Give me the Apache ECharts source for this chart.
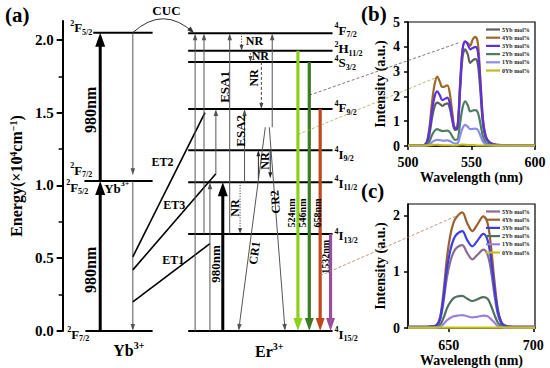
<!DOCTYPE html>
<html><head><meta charset="utf-8">
<script src="https://cdn.jsdelivr.net/npm/echarts@6/dist/echarts.min.js"></script>
<style>html,body{margin:0;padding:0;background:#fff}#c{width:550px;height:368px}</style>
</head><body><div id="c"></div>
<script>
// ======================= DATA =======================
// (a) energy-level diagram, energies in 10^4 cm^-1
const energyTicks = [0, 0.5, 1.0, 1.5, 2.0];
const energyMinorTicks = [0.25, 0.75, 1.25, 1.75];
const ybLevelNames = ['2F7/2', '2F5/2', '2F5/2'];
const ybLevelEnergy = [0, 1.03, 2.05];
const erLevelNames = ['4I15/2', '4I13/2', '4I11/2', '4I9/2', '4F9/2', '4S3/2', '2H11/2', '4F7/2'];
const erLevelEnergy = [0, 0.667, 1.022, 1.242, 1.526, 1.849, 1.926, 2.046];
const ybPumpSteps = [[0, 1.03], [1.03, 2.05]];
const ybDecaySteps = [[2.05, 1.07], [1.03, 0]];
const etNames = ['ET1', 'ET2', 'ET3'];
const etDonorEnergy = [0.20, 0.51, 0.42];
const etAcceptorEnergy = [0.60, 1.50, 1.08];
const erAbsorption = [[0, 2.046], [0.667, 2.046], [0, 1.022], [1.08, 1.526], [0.667, 2.046], [1.022, 1.526], [1.40, 2.046]];
const erPump = [0, 1.022];
const nrDecays = [[2.046, 1.926], [1.926, 1.849], [1.849, 1.526], [1.022, 0.667]];
const nrExchange = [[1.04, 1.242], [1.242, 1.05]];
const crNames = ['CR1', 'CR2'];
const crTransfers = [[1.40, 0], [1.40, 0]];
const emissionNames = ['524nm', '546nm', '658nm', '1532nm'];
const emissionUpper = [1.926, 1.849, 1.526, 0.667];
const emissionLower = [0, 0, 0, 0];
const cucStep = [2.05, 2.046];
const pumpLabel = '980nm';

// (b) green emission spectra
const seriesNames = ['5Yb mol%', '4Yb mol%', '3Yb mol%', '2Yb mol%', '1Yb mol%', '0Yb mol%'];
const greenWavelength = [500,510,513,515,517,519,521,523,525,527,529,531,533,535,537,539,541,543,545,547,549,551,553,555,557,559,561,563,566,570,580,600];
const green5Yb = [0.02,0.02,0.04,0.12,0.5,1.15,1.6,1.75,1.7,1.62,1.68,1.72,1.5,1.0,0.65,0.7,2.2,3.6,3.9,3.7,3.35,3.45,3.5,3.3,2.2,0.9,0.35,0.18,0.08,0.04,0.03,0.02];
const green4Yb = [0.02,0.02,0.05,0.2,0.8,1.8,2.5,2.8,2.6,2.38,2.4,2.45,2.1,1.3,0.75,0.8,2.5,3.9,4.2,4.15,4.05,4.3,4.4,4.15,2.7,1.1,0.45,0.22,0.1,0.05,0.03,0.02];
const green3Yb = [0.02,0.02,0.04,0.15,0.65,1.45,2.0,2.2,2.05,1.85,1.9,1.95,1.7,1.1,0.7,0.75,2.4,3.9,4.22,4.1,3.9,3.95,4.0,3.8,2.5,1.0,0.4,0.2,0.09,0.05,0.03,0.02];
const green2Yb = [0.01,0.01,0.02,0.05,0.2,0.45,0.62,0.68,0.64,0.6,0.61,0.62,0.55,0.38,0.25,0.27,0.9,1.55,1.8,1.65,1.4,1.43,1.45,1.35,0.9,0.38,0.15,0.08,0.04,0.02,0.01,0.01];
const green1Yb = [0.01,0.01,0.01,0.02,0.07,0.16,0.22,0.25,0.24,0.22,0.22,0.23,0.2,0.14,0.1,0.11,0.4,0.72,0.85,0.78,0.68,0.69,0.7,0.65,0.42,0.18,0.07,0.04,0.02,0.01,0.01,0.01];
const green0Yb = [0.02,0.02,0.02,0.02,0.03,0.04,0.05,0.05,0.04,0.03,0.03,0.03,0.03,0.02,0.02,0.03,0.05,0.06,0.05,0.04,0.04,0.04,0.03,0.02,0.02,0.02,0.02,0.02,0.02,0.02,0.02,0.02];
const greenTicks = [500, 550, 600];
const greenIntensityTicks = [0, 1, 2, 3, 4, 5];

// (c) red emission spectra
const redWavelength = [626,635,640,643,645,647,649,651,653,655,658,661,664,667,670.5,673,675,677,679,681,683,686,690,701];
const red5Yb = [0.02,0.02,0.03,0.05,0.15,0.47,0.9,1.18,1.35,1.43,1.47,1.33,1.22,1.3,1.39,1.3,1.02,0.6,0.25,0.09,0.04,0.02,0.02,0.02];
const red4Yb = [0.02,0.02,0.03,0.06,0.2,0.65,1.25,1.65,1.88,1.98,2.05,1.86,1.72,1.84,1.98,1.86,1.45,0.85,0.35,0.12,0.05,0.03,0.02,0.02];
const red3Yb = [0.02,0.02,0.03,0.05,0.17,0.55,1.05,1.38,1.58,1.67,1.72,1.56,1.45,1.55,1.67,1.56,1.22,0.72,0.3,0.1,0.04,0.02,0.02,0.02];
const red2Yb = [0.01,0.01,0.01,0.02,0.06,0.18,0.35,0.46,0.53,0.56,0.57,0.52,0.48,0.51,0.55,0.52,0.4,0.24,0.1,0.04,0.02,0.01,0.01,0.01];
const red1Yb = [0.01,0.01,0.01,0.01,0.03,0.07,0.14,0.18,0.21,0.22,0.23,0.21,0.19,0.2,0.22,0.21,0.16,0.1,0.04,0.02,0.01,0.01,0.01,0.01];
const red0Yb = [0.01,0.01,0.01,0.01,0.01,0.01,0.01,0.01,0.01,0.01,0.01,0.01,0.01,0.01,0.01,0.01,0.01,0.01,0.01,0.01,0.01,0.01,0.01,0.01];
const redTicks = [650, 700];
const redIntensityTicks = [0, 1, 2];

// zoom connectors: [emission index, energy on arrow] -> [wavelength, intensity] on inset
const connectFrom = [[1, 1.62], [0, 1.35], [2, 0.38]];
const connectTo = [[541, 4.18], [522.6, 2.77], [657, 2.02]];

// ======================= LAYOUT / STYLE =======================
const FONT = 'Liberation Serif';
const L = {
  ybLevelL: [80, 79, 88], ybLevelR: 148,
  erLevelL: 184, erLevelR: 330,
  ybPump: 95, ybDecay: 128,
  etEndX: [206, 201, 212],
  erAbs: [191, 200, 206, 212, 226, 241, 269],
  erPump: 219,
  nr: [238, 247, 258, 236.5],
  nrEx: [255, 267],
  cr: [[262, 235], [266, 282]],
  emission: [295, 306.5, 317.5, 328],
  erLabelX: 332,
  erLabelDy: [3, 2, 1, 4, -1, 1, -2, -3],
  cucX: [128, 190]
};
const ST = {
  level: {color: '#000', width: 2},
  thin: {color: '#555', width: 1, head: [7, 4.5]},
  thinBlack: {color: '#222', width: 1, head: [6, 4]},
  thick: {color: '#000', width: 3, head: [14, 10]},
  dot: {color: '#444', width: 1, dash: [1.2, 1.5], head: [6, 4]},
  dash: {color: '#444', width: 1, dash: [3, 2], head: [6, 4]},
  et: {color: '#000', width: 1.6}
};
const emissionColors = ['#8cd21c', '#3c7a24', '#c0461c', '#9a4f9c'];
const bColors = ['#5c625c', '#9c6a28', '#5c30e0', '#4e7e60', '#8c8cf0', '#c4b820'];
const cColors = ['#8c6c8c', '#9a6030', '#3c3ce8', '#4e7060', '#9c80e0', '#c8c020'];
const connectColors = ['#555', '#a4a850', '#b07a5a'];

function richFor(s) {
  const base = {fontWeight: 'bold', fontFamily: FONT, color: '#000'};
  const ss = Math.round(s * 0.62);
  return {
    n: Object.assign({fontSize: s, lineHeight: Math.round(s * 1.3)}, base),
    sp: Object.assign({fontSize: ss, lineHeight: ss, verticalAlign: 'top'}, base),
    sb: Object.assign({fontSize: ss, lineHeight: ss, verticalAlign: 'bottom'}, base)
  };
}
function lvl(name) {
  const m = name.match(/^(\d)([A-Z])(.+)$/);
  return '{sp|' + m[1] + '}{n|' + m[2] + '}{sb|' + m[3] + '}';
}

// ---------- segments / arrows ----------
const segs = [];
const seg = (x1, e1, x2, e2, st) => segs.push({v: [x1, e1, x2, e2], st});
ybLevelEnergy.forEach((e, i) => seg(L.ybLevelL[i], e, L.ybLevelR, e, ST.level));
erLevelEnergy.forEach(e => seg(L.erLevelL, e, L.erLevelR, e, ST.level));
ybDecaySteps.forEach(([a, b]) => seg(L.ybDecay, a, L.ybDecay, b, ST.thin));
etDonorEnergy.forEach((e, i) => seg(L.ybDecay, e, L.etEndX[i], etAcceptorEnergy[i], ST.et));
erAbsorption.forEach(([a, b], i) => seg(L.erAbs[i], a, L.erAbs[i], b, ST.thin));
nrDecays.forEach(([a, b], i) => seg(L.nr[i], a, L.nr[i], b, i === 2 ? ST.dash : ST.dot));
nrExchange.forEach(([a, b], i) => seg(L.nrEx[i], a, L.nrEx[i], b, ST.thinBlack));
crTransfers.forEach(([a, b], i) => seg(L.cr[i][0], a, L.cr[i][1], b, ST.thin));
ybPumpSteps.forEach(([a, b]) => seg(L.ybPump, a, L.ybPump, b, ST.thick));
seg(L.erPump, erPump[0], L.erPump, erPump[1], ST.thick);
emissionUpper.forEach((e, i) => seg(L.emission[i], e, L.emission[i], emissionLower[i],
  {color: emissionColors[i], width: 3.2, head: [13, 9]}));

function arrowShapes(p1, p2, st) {
  const dx = p2[0] - p1[0], dy = p2[1] - p1[1];
  const len = Math.hypot(dx, dy) || 1;
  const ux = dx / len, uy = dy / len;
  const out = [];
  let ex = p2[0], ey = p2[1];
  let poly = null;
  if (st.head) {
    const [hl, hw] = st.head;
    const bx = p2[0] - ux * hl, by = p2[1] - uy * hl;
    ex = p2[0] - ux * hl * 0.7; ey = p2[1] - uy * hl * 0.7;
    poly = {type: 'polygon', shape: {points: [[p2[0], p2[1]], [bx - uy * hw / 2, by + ux * hw / 2], [bx + uy * hw / 2, by - ux * hw / 2]]},
      style: {fill: st.color}};
  }
  out.push({type: 'line', shape: {x1: p1[0], y1: p1[1], x2: ex, y2: ey},
    style: {stroke: st.color, lineWidth: st.width, lineDash: st.dash || null}});
  if (poly) out.push(poly);
  return out;
}

// ---------- texts ----------
const texts = [];
const txt = (x, e, text, o) => texts.push(Object.assign({x, e, text, size: 13, rot: 0, align: 'center', dy: 0}, o || {}));
erLevelNames.forEach((n, i) => txt(L.erLabelX, erLevelEnergy[i], lvl(n), {align: 'left', dy: L.erLabelDy[i]}));
txt(87, ybLevelEnergy[2], lvl(ybLevelNames[2]), {align: 'right', dy: -5});
txt(87, ybLevelEnergy[1], lvl(ybLevelNames[0]), {align: 'right', dy: -11});
txt(83, ybLevelEnergy[1], lvl(ybLevelNames[1]), {align: 'right', dy: 6});
txt(99, ybLevelEnergy[1], '{n|Yb}{sp|3+}', {align: 'left', dy: 7});
txt(84, ybLevelEnergy[0], lvl(ybLevelNames[0]), {align: 'right', dy: 3});
txt(85, 1.52, pumpLabel, {rot: 90, size: 16});
txt(85, 0.42, pumpLabel, {rot: 90, size: 16});
txt(212, 0.46, pumpLabel, {rot: 90, size: 13});
txt(169, 0.488, etNames[0], {size: 12});
txt(158, 1.16, etNames[1], {size: 12});
txt(170, 0.866, etNames[2], {size: 12});
txt(162, 2.205, 'CUC', {size: 13});
txt(221, 1.677, 'ESA1', {rot: 90, size: 13});
txt(236.5, 1.375, 'ESA2', {rot: 90, size: 13});
txt(251, 1.993, 'NR', {size: 12});
txt(257, 1.89, 'NR', {size: 12});
txt(251, 1.739, 'NR', {rot: 90, size: 12});
txt(262, 1.168, 'NR', {rot: 90, size: 12});
txt(231, 0.845, 'NR', {rot: 90, size: 12});
txt(251, 0.536, crNames[0], {rot: 82, size: 12});
txt(272, 0.887, crNames[1], {rot: 94, size: 12});
emissionNames.forEach((n, i) => txt([289, 300, 314.5, 322.5][i], i === 3 ? 0.509 : 0.811, n, {rot: 90, size: 10}));
txt(124, -0.137, '{n|Yb}{sp|3+}', {size: 16});
txt(266, -0.144, '{n|Er}{sp|3+}', {size: 16});

// ---------- inset series ----------
const greenSets = [green5Yb, green4Yb, green3Yb, green2Yb, green1Yb, green0Yb];
const redSets = [red5Yb, red4Yb, red3Yb, red2Yb, red1Yb, red0Yb];
const insetSeries = [];
greenSets.forEach((vals, i) => insetSeries.push({
  type: 'line', name: seriesNames[i], xAxisIndex: 1, yAxisIndex: 2,
  data: greenWavelength.map((w, k) => [w, vals[k]]), smooth: 0.35, showSymbol: false,
  lineStyle: {width: 2.2, color: bColors[i]}, itemStyle: {color: bColors[i]}, z: 3
}));
redSets.forEach((vals, i) => insetSeries.push({
  type: 'line', name: seriesNames[i], xAxisIndex: 2, yAxisIndex: 3,
  data: redWavelength.map((w, k) => [w, vals[k]]), smooth: 0.35, showSymbol: false,
  lineStyle: {width: 2.2, color: cColors[i]}, itemStyle: {color: cColors[i]}, z: 3
}));

function insetAxis(extra) {
  return Object.assign({
    type: 'value',
    axisLine: {show: true, onZero: false, lineStyle: {color: '#000', width: 1.5}},
    axisTick: {show: true, length: 4, lineStyle: {color: '#000', width: 1.5}},
    splitLine: {show: false},
    nameLocation: 'middle',
    nameTextStyle: {color: '#000', fontFamily: FONT, fontWeight: 'bold', fontSize: 14}
  }, extra);
}
const tickLabel = (m) => ({color: '#000', fontFamily: FONT, fontWeight: 'bold', fontSize: 14, margin: m});

function legendFor(top, colors) {
  return {
    data: seriesNames.map((n, i) => ({name: n, itemStyle: {color: colors[i]}})),
    orient: 'vertical', left: 486, top: top, icon: 'rect', itemWidth: 14, itemHeight: 2.2,
    itemGap: 1.2, padding: 0, selectedMode: false,
    textStyle: {fontSize: 6, fontWeight: 'bold', fontFamily: FONT, color: '#222', lineHeight: 7, padding: [0, 0, 0, -3]}
  };
}

const option = {
  animation: false,
  backgroundColor: '#fff',
  textStyle: {fontFamily: FONT},
  grid: [
    {left: 57, right: 0, top: 21, bottom: 37},
    {left: 408, top: 22, width: 127, height: 124, show: true, borderColor: '#000', borderWidth: 1.2, backgroundColor: 'transparent'},
    {left: 408, top: 204, width: 127, height: 125, show: true, borderColor: '#000', borderWidth: 1.2, backgroundColor: 'transparent'}
  ],
  xAxis: [
    {gridIndex: 0, type: 'value', min: 57, max: 550, show: false},
    insetAxis({gridIndex: 1, min: 500, max: 600, interval: 50, name: 'Wavelength (nm)', nameGap: 24,
      axisLabel: Object.assign({customValues: greenTicks}, tickLabel(9)), axisTick: {show: true, length: 4, customValues: greenTicks, lineStyle: {color: '#000', width: 1.5}}}),
    insetAxis({gridIndex: 2, min: 626, max: 701, name: 'Wavelength (nm)', nameGap: 23,
      axisLabel: Object.assign({customValues: redTicks}, tickLabel(10)), axisTick: {show: true, length: 4, customValues: redTicks, lineStyle: {color: '#000', width: 1.5}}})
  ],
  yAxis: [
    {gridIndex: 0, type: 'value', min: 0, max: 2.13, position: 'left',
      axisLine: {show: true, lineStyle: {color: '#000', width: 2}},
      axisTick: {show: true, length: 6, customValues: energyTicks, lineStyle: {color: '#000', width: 2}},
      splitLine: {show: false},
      axisLabel: {customValues: energyTicks, color: '#000', fontFamily: FONT, fontWeight: 'bold', fontSize: 15, margin: 9,
        formatter: v => v.toFixed(1)},
      name: 'Energy(×10{sp|4}cm{sp|−1})', nameLocation: 'middle', nameGap: 34, nameRotate: 90,
      nameTextStyle: {color: '#000', fontFamily: FONT, fontWeight: 'bold', fontSize: 16, rich: richFor(16)}},
    {gridIndex: 0, type: 'value', min: 0, max: 2.13, position: 'left', offset: 0,
      axisLine: {show: false}, splitLine: {show: false}, axisLabel: {show: false},
      axisTick: {show: true, length: 4, customValues: energyMinorTicks, lineStyle: {color: '#000', width: 1.5}}},
    insetAxis({gridIndex: 1, min: 0, max: 5, interval: 1, name: 'Intensity (a.u.)', nameGap: 21,
      axisLabel: tickLabel(8)}),
    insetAxis({gridIndex: 2, min: 0, max: 2.2, name: 'Intensity (a.u.)', nameGap: 21,
      axisLabel: Object.assign({customValues: redIntensityTicks}, tickLabel(8)),
      axisTick: {show: true, length: 4, customValues: redIntensityTicks, lineStyle: {color: '#000', width: 1.5}}})
  ],
  legend: [legendFor(26, bColors), legendFor(208, cColors)],
  series: [
    {
      type: 'custom', xAxisIndex: 0, yAxisIndex: 0, clip: false, silent: true, z: 2,
      encode: {x: [0, 2], y: [1, 3]},
      data: segs.map(s => s.v),
      renderItem: (params, api) => {
        const p1 = api.coord([api.value(0), api.value(1)]);
        const p2 = api.coord([api.value(2), api.value(3)]);
        return {type: 'group', children: arrowShapes(p1, p2, segs[params.dataIndex].st)};
      }
    },
    {
      type: 'custom', xAxisIndex: 0, yAxisIndex: 0, clip: false, silent: true, z: 2,
      encode: {x: [0, 2], y: [1, 3]},
      data: [[L.cucX[0], cucStep[0], L.cucX[1], cucStep[1]]],
      renderItem: (params, api) => {
        const p1 = api.coord([api.value(0), api.value(1)]);
        const p2 = api.coord([api.value(2), api.value(3)]);
        const cp = [(p1[0] + p2[0]) / 2, Math.min(p1[1], p2[1]) - 28];
        const dx = p2[0] - cp[0], dy = p2[1] - cp[1], len = Math.hypot(dx, dy);
        const ux = dx / len, uy = dy / len, hl = 7, hw = 5;
        const bx = p2[0] - ux * hl, by = p2[1] - uy * hl;
        return {type: 'group', children: [
          {type: 'bezierCurve', shape: {x1: p1[0], y1: p1[1], x2: p2[0], y2: p2[1], cpx1: cp[0], cpy1: cp[1]},
            style: {stroke: '#333', lineWidth: 1, fill: null}},
          {type: 'polygon', shape: {points: [[p2[0], p2[1]], [bx - uy * hw / 2, by + ux * hw / 2], [bx + uy * hw / 2, by - ux * hw / 2]]},
            style: {fill: '#333'}}
        ]};
      }
    },
    {
      type: 'custom', xAxisIndex: 0, yAxisIndex: 0, clip: false, silent: true, z: 4,
      data: texts.map(t => [t.x, t.e]),
      renderItem: (params, api) => {
        const t = texts[params.dataIndex];
        const p = api.coord([api.value(0), api.value(1)]);
        const hasRich = t.text.indexOf('{') === 0;
        return {
          type: 'text', x: p[0], y: p[1] + t.dy, rotation: t.rot * Math.PI / 180,
          style: {
            text: hasRich ? t.text : '{n|' + t.text + '}', rich: richFor(t.size),
            align: t.align, verticalAlign: 'middle', fill: '#000',
            fontFamily: FONT, fontWeight: 'bold', fontSize: t.size
          }
        };
      }
    }
  ].concat(insetSeries),
  graphic: [
    {type: 'text', id: 'pa', left: 5, top: 4, style: {text: '(a)', font: 'bold 21px "Liberation Serif"', fill: '#000'}},
    {type: 'text', id: 'pb', left: 361, top: 3, style: {text: '(b)', font: 'bold 21px "Liberation Serif"', fill: '#000'}},
    {type: 'text', id: 'pc', left: 361, top: 180, style: {text: '(c)', font: 'bold 21px "Liberation Serif"', fill: '#000'}}
  ]
};

const chart = echarts.init(document.getElementById('c'), null, {renderer: 'svg'});
chart.setOption(option);

const insetFinders = [{xAxisIndex: 1, yAxisIndex: 2}, {xAxisIndex: 1, yAxisIndex: 2}, {xAxisIndex: 2, yAxisIndex: 3}];
const connectorGraphics = connectFrom.map((f, i) => {
  const a = chart.convertToPixel({xAxisIndex: 0, yAxisIndex: 0}, [L.emission[f[0]], f[1]]);
  const b = chart.convertToPixel(insetFinders[i], connectTo[i]);
  return {type: 'line', id: 'conn' + i, silent: true, z: 10,
    shape: {x1: a[0], y1: a[1], x2: b[0], y2: b[1]},
    style: {stroke: connectColors[i], lineWidth: 0.8, lineDash: [3, 2]}};
});
chart.setOption({graphic: connectorGraphics});
</script>
</body></html>
